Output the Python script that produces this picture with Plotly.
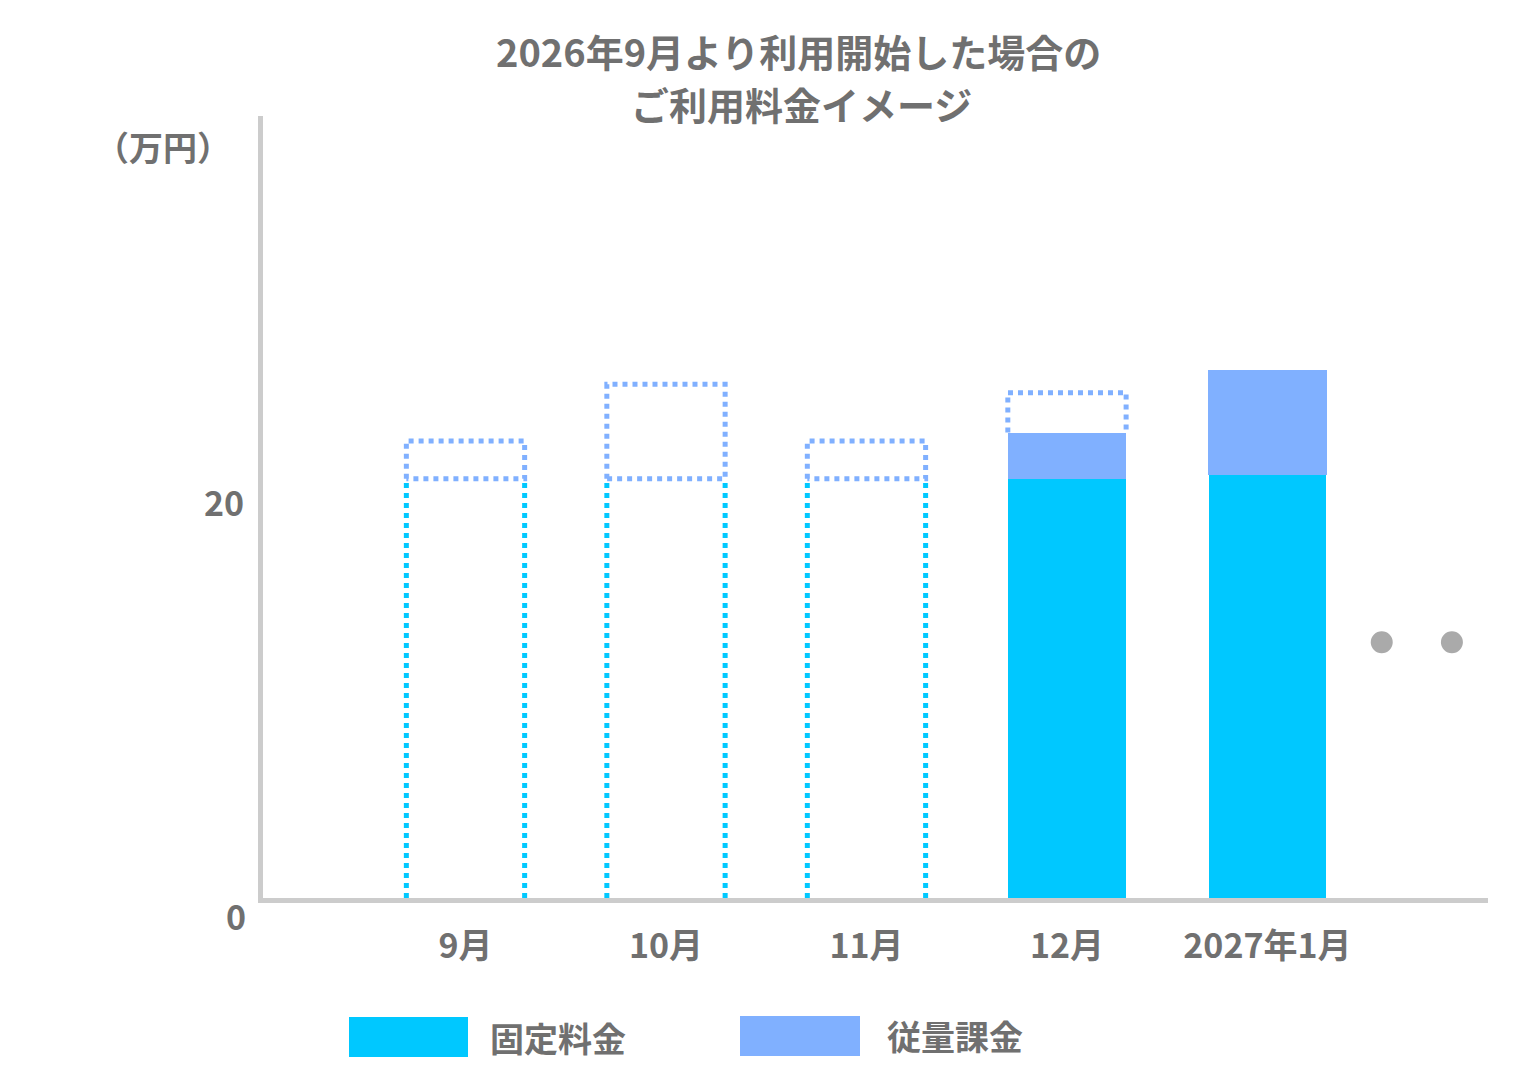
import plotly.graph_objects as go

months = ["9月", "10月", "11月", "12月", "2027年1月"]
fixed_actual = [None, None, None, 20.0, 20.2]
usage_actual = [None, None, None, 2.2, 5.0]
fixed_est = [20.0, 20.0, 20.0, None, None]
total_est = [21.8, 24.5, 21.8, 24.1, None]
dots_x = [4.57, 4.92, 5.28]
dots_y = [12.2, 12.2, 12.2]

CYAN = "#00C8FF"; BLUE = "#80B0FF"; GREY = "#707070"
W = 0.59
xs = list(range(len(months)))
fig = go.Figure()
fig.add_bar(x=xs, y=fixed_actual, width=W, marker=dict(color=CYAN, line=dict(width=1, color="white")), name="固定料金", showlegend=False)
fig.add_bar(x=xs, y=usage_actual, width=W, marker=dict(color=BLUE, line=dict(width=0)), name="従量課金", showlegend=False)

dash = dict(width=5, dash="dot")
for i in xs:
    h = W / 2
    if fixed_est[i] is not None:
        f = fixed_est[i]
        fig.add_scatter(x=[i-h, i-h, None, i+h, i+h], y=[0, f, None, 0, f], mode="lines",
                        line=dict(color=CYAN, **dash), showlegend=False, hoverinfo="skip")
        base = f
    elif total_est[i] is not None:
        base = fixed_actual[i] + usage_actual[i]
    else:
        continue
    t = total_est[i]
    fig.add_scatter(x=[i-h, i-h, i+h, i+h, i-h] if fixed_est[i] is not None else [i-h, i-h, i+h, i+h],
                    y=[base, t, t, base, base] if fixed_est[i] is not None else [base, t, t, base],
                    mode="lines", line=dict(color=BLUE, **dash), showlegend=False, hoverinfo="skip")

for dx, dy in zip(dots_x, dots_y):
    fig.add_shape(type="circle", xref="x", yref="y", xsizemode="pixel", ysizemode="pixel",
                  xanchor=dx, yanchor=dy, x0=-11, x1=11, y0=-11, y1=11,
                  fillcolor="#AAAAAA", line_width=0)

L, R, T, B = 255, 46, 108, 191
pw, ph = 1526 - L - R, 1081 - T - B
def px(x): return (x - L) / pw
def py(y): return (1081 - y - B) / ph

fig.update_layout(
    width=1526, height=1081, barmode="stack", plot_bgcolor="white", paper_bgcolor="white",
    margin=dict(l=L, r=R, t=T, b=B, autoexpand=False),
    font=dict(family="Noto Sans CJK JP", color=GREY, size=34, weight="bold"),
    xaxis=dict(range=[-1.01, 5.1], tickvals=xs, ticktext=months, showgrid=False, zeroline=False,
               showline=True, linecolor="#CCCCCC", linewidth=5, ticks="", ticklabelstandoff=14,
               tickfont=dict(size=34)),
    yaxis=dict(range=[0, 37.3], showgrid=False, zeroline=False, showline=True, linecolor="#CCCCCC",
               linewidth=5, showticklabels=False, ticks=""),
)
ann = [
    ("2026年9月より利用開始した場合の", 790, 42, "center", 38),
    ("ご利用料金イメージ", 793, 95, "center", 38),
    ("20", 238, 493, "right", 34),
    ("（万円）", 155, 138, "center", 34),
    ("0", 240, 907, "right", 34),
    ("固定料金", 480, 1029, "left", 34),
    ("従量課金", 877, 1027, "left", 34),
]
for t, x, y, xa, s in ann:
    fig.add_annotation(text=t, x=px(x), y=py(y), xref="paper", yref="paper", showarrow=False,
                       xanchor=xa, yanchor="middle", font=dict(size=s))
fig.add_shape(type="rect", xref="paper", yref="paper", x0=px(341), x1=px(460),
              y0=py(1049), y1=py(1009), fillcolor=CYAN, line_width=0)
fig.add_shape(type="rect", xref="paper", yref="paper", x0=px(732), x1=px(852),
              y0=py(1048), y1=py(1008), fillcolor=BLUE, line_width=0)
fig.write_html("out.html")
